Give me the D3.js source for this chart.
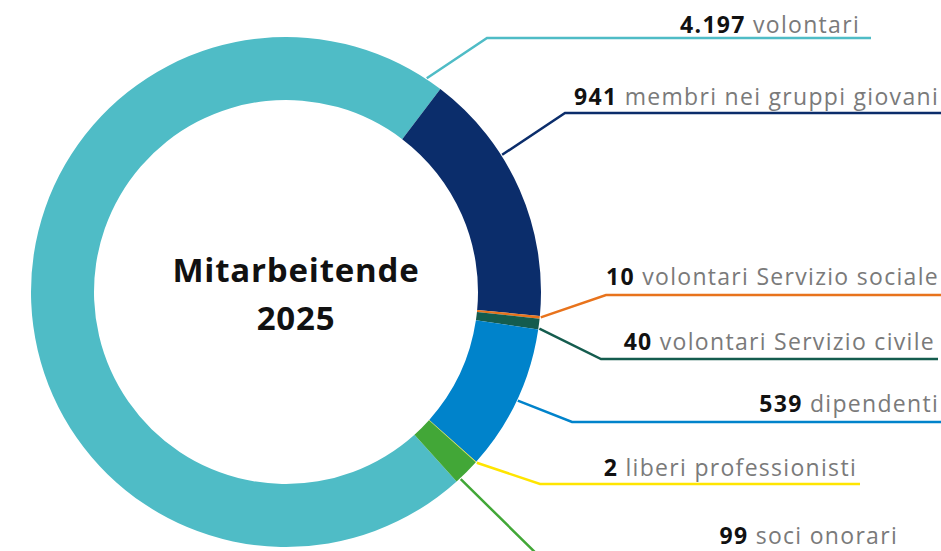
<!DOCTYPE html>
<html>
<head>
<meta charset="utf-8">
<script src="https://cdn.jsdelivr.net/npm/d3@7.9.0/dist/d3.min.js"></script>
<style>
  html, body { margin: 0; padding: 0; background: #fff; }
  svg { display: block; font-family: 'Open Sans', sans-serif; }
  .num { font-weight: 700; fill: #111; }
  .lbl { font-weight: 400; fill: #7a7a7a; }
</style>
</head>
<body>
<svg id="chart" width="941" height="551"></svg>
<script>
// data
const categories = [
  'volontari',
  'membri nei gruppi giovani',
  'volontari Servizio sociale',
  'volontari Servizio civile',
  'dipendenti',
  'liberi professionisti',
  'soci onorari'
];
const values = [4197, 941, 10, 40, 539, 2, 99];
const colors = ['#4fbcc6', '#0b2d6b', '#e8731c', '#145c4e', '#0083cb', '#ffe500', '#42a737'];
const titleLines = ['Mitarbeitende', '2025'];

// label placement (where the leader line leaves the ring, elbow, end of line, text baseline)
const anchorFrac = [0.985, 0.35, 0.5, 0.9, 0.5, 0.5, 0.83];
const elbowX = [487, 565, 606, 601, 572, 540, 549];
const lineY = [38, 113, 295, 359, 422, 484, 566];
const lineEnd = [871, 941, 941, 938, 941, 860, 905];
const textEnd = [860, 939, 939, 935, 939, 857, 898];
const textY = [33, 105, 285, 350, 412, 476, 544];

const cx = 286, cy = 292;
const outerR = 255, innerR = 192;

const it = d3.formatLocale({ decimal: ',', thousands: '.', grouping: [3], currency: ['€', ''] });
const fmt = it.format(',d');

const svg = d3.select('#chart');
const g = svg.append('g').attr('transform', `translate(${cx},${cy})`);

const startDeg = 138;
const pie = d3.pie()
  .sort(null)
  .value(d => d)
  .startAngle(startDeg * Math.PI / 180)
  .endAngle(startDeg * Math.PI / 180 + 2 * Math.PI);

const arc = d3.arc().innerRadius(innerR).outerRadius(outerR);
const arcs = pie(values);

g.selectAll('path.slice')
  .data(arcs)
  .join('path')
  .attr('class', 'slice')
  .attr('d', arc)
  .attr('fill', (d, i) => colors[i]);

// leader lines
arcs.forEach((d, i) => {
  const a = d.startAngle + (d.endAngle - d.startAngle) * anchorFrac[i];
  const [px, py] = d3.pointRadial(a, outerR + 1);
  const pts = [[px + cx, py + cy], [elbowX[i], lineY[i]], [lineEnd[i], lineY[i]]];
  svg.append('path')
    .attr('d', d3.line()(pts))
    .attr('fill', 'none')
    .attr('stroke', colors[i])
    .attr('stroke-width', 2.5);

  const t = svg.append('text')
    .attr('x', textEnd[i])
    .attr('y', textY[i])
    .attr('text-anchor', 'end')
    .attr('font-size', 23)
    .attr('letter-spacing', 1.3);
  t.append('tspan').attr('class', 'num').text(fmt(values[i]));
  t.append('tspan').attr('class', 'lbl').text(' ' + categories[i]);
});

// centre title
svg.append('text')
  .attr('x', 296)
  .attr('text-anchor', 'middle')
  .attr('font-size', 33)
  .attr('font-weight', 700)
  .attr('letter-spacing', 0.8)
  .attr('fill', '#111')
  .selectAll('tspan')
  .data(titleLines)
  .join('tspan')
  .attr('x', 296)
  .attr('y', (d, i) => 282 + i * 48)
  .text(d => d);
</script>
</body>
</html>
